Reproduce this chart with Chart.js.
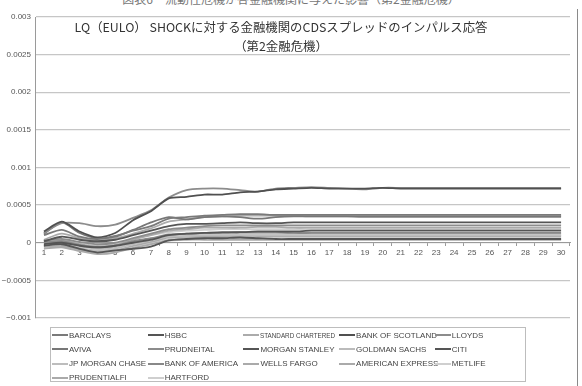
<!DOCTYPE html>
<html><head><meta charset="utf-8">
<script src="https://cdn.jsdelivr.net/npm/chart.js@4.4.1/dist/chart.umd.min.js"></script>
<style>
html,body{margin:0;padding:0;background:#fff;}
#wrap{position:relative;width:582px;height:386px;overflow:hidden;background:#fff;}
canvas{position:absolute;left:0;top:0;}
#cap{position:absolute;left:0;width:582px;top:-10px;text-align:center;font:12px "Noto Sans CJK JP";color:#777;white-space:nowrap;}
#title{position:absolute;left:0;width:562px;top:18px;text-align:center;font:12.4px/19px "Noto Sans CJK JP";color:#333;white-space:nowrap;}
#frame{position:absolute;left:577px;top:9px;width:0;height:380px;border-left:1px solid #8a8a8a;}
#legend{position:absolute;left:50px;top:327px;width:476px;height:55px;border:1px solid #bdbdbd;box-sizing:border-box;}
.li{position:absolute;height:12px;display:flex;align-items:center;font:8px "Liberation Sans",Arial,sans-serif;color:#444;white-space:nowrap;}
.li span.sw{display:inline-block;width:16px;height:0;margin-right:1px;}
.li span.narrow{display:inline-block;font-size:7.5px;transform:scaleX(0.84);transform-origin:left center;}
</style></head>
<body><div id="wrap">
<div id="cap">図表6　流動性危機が各金融機関に与えた影響（第2金融危機）</div>
<canvas id="c" width="582" height="386"></canvas>
<div id="title">LQ（EULO） SHOCKに対する金融機関のCDSスプレッドのインパルス応答<br>（第2金融危機）</div>
<div id="frame"></div>
<div id="legend"></div>
</div>
<script>
const periods = [1,2,3,4,5,6,7,8,9,10,11,12,13,14,15,16,17,18,19,20,21,22,23,24,25,26,27,28,29,30];
const yTicks = [-0.001,-0.0005,0,0.0005,0.001,0.0015,0.002,0.0025,0.003];

const seriesNames = ["BARCLAYS","HSBC","STANDARD CHARTERED","BANK OF SCOTLAND","LLOYDS","AVIVA","PRUDNEITAL","MORGAN STANLEY","GOLDMAN SACHS","CITI","JP MORGAN CHASE","BANK OF AMERICA","WELLS FARGO","AMERICAN EXPRESS","METLIFE","PRUDENTIALFI","HARTFORD"];
const seriesColors = ["#7a7a7a","#555555","#ababab","#505050","#8c8c8c","#777777","#8c8c8c","#555555","#bbbbbb","#555555","#bdbdbd","#888888","#aaaaaa","#aaaaaa","#cfcfcf","#aaaaaa","#cfcfcf"];

const barclays = [0.0001,0.00017,0.00008,0.00005,0.00009,0.00016,0.00022,0.00032,0.00034,0.00036,0.00037,0.00038,0.00038,0.00037,0.00037,0.00037,0.00037,0.00037,0.00037,0.00037,0.00037,0.00037,0.00037,0.00037,0.00037,0.00037,0.00037,0.00037,0.00037,0.00037];
const hsbc = [0.00002,0.00008,0.00004,0.00002,0.00004,0.0001,0.00016,0.00022,0.00025,0.00025,0.00026,0.00027,0.00026,0.00026,0.00027,0.00027,0.00027,0.00027,0.00027,0.00027,0.00027,0.00027,0.00027,0.00027,0.00027,0.00027,0.00027,0.00027,0.00027,0.00027];
const standardChartered = [0.00004,0.00012,0.00006,0.00003,0.00006,0.00012,0.00019,0.00028,0.00031,0.00034,0.00035,0.00036,0.00036,0.00036,0.00036,0.00035,0.00035,0.00035,0.00034,0.00034,0.00034,0.00034,0.00034,0.00034,0.00034,0.00034,0.00034,0.00034,0.00034,0.00034];
const bankOfScotland = [0.00015,0.00028,0.00015,0.00007,0.00013,0.0003,0.00042,0.00059,0.00061,0.00064,0.00064,0.00067,0.00068,0.00071,0.00072,0.00073,0.00072,0.00072,0.00072,0.00073,0.00072,0.00072,0.00072,0.00072,0.00072,0.00072,0.00072,0.00072,0.00072,0.00072];
const lloyds = [0.00013,0.00026,0.00026,0.00022,0.00024,0.00033,0.00043,0.0006,0.0007,0.00072,0.00072,0.0007,0.00068,0.00072,0.00073,0.00074,0.00073,0.00072,0.00071,0.00073,0.00073,0.00073,0.00073,0.00073,0.00073,0.00073,0.00073,0.00073,0.00073,0.00073];
const aviva = [0.00012,0.00027,0.00013,0.00006,0.00008,0.00017,0.00027,0.00034,0.00031,0.00034,0.00035,0.00034,0.00032,0.00034,0.00035,0.00035,0.00035,0.00035,0.00035,0.00035,0.00035,0.00035,0.00035,0.00035,0.00035,0.00035,0.00035,0.00035,0.00035,0.00035];
const prudneital = [0.00003,0.00005,0.00001,-0.00002,0,0.00006,0.00012,0.00018,0.0002,0.00022,0.00023,0.00023,0.00023,0.00023,0.00023,0.00023,0.00023,0.00023,0.00023,0.00023,0.00023,0.00023,0.00023,0.00023,0.00023,0.00023,0.00023,0.00023,0.00023,0.00023];
const morganStanley = [-0.00004,-0.00002,-0.00008,-0.00013,-0.0001,-0.00008,-0.00005,0.00003,0.00005,0.00006,0.00006,0.00007,0.00006,0.00005,0.00005,0.00005,0.00005,0.00005,0.00005,0.00005,0.00005,0.00005,0.00005,0.00005,0.00005,0.00005,0.00005,0.00005,0.00005,0.00005];
const goldmanSachs = [-0.00003,-0.00001,-0.00005,-0.00008,-0.00006,0,0.00005,0.0001,0.00011,0.00012,0.00012,0.00012,0.00012,0.00012,0.00012,0.00012,0.00012,0.00012,0.00012,0.00012,0.00012,0.00012,0.00012,0.00012,0.00012,0.00012,0.00012,0.00012,0.00012,0.00012];
const citi = [-0.00002,0,-0.00004,-0.00006,-0.00004,0,0.00004,0.0001,0.00012,0.00013,0.00014,0.00014,0.00015,0.00015,0.00015,0.00016,0.00016,0.00016,0.00016,0.00016,0.00016,0.00016,0.00016,0.00016,0.00016,0.00016,0.00016,0.00016,0.00016,0.00016];
const jpMorganChase = [-0.00004,-0.00002,-0.00007,-0.0001,-0.00008,-0.00002,0.00003,0.00008,0.00009,0.0001,0.0001,0.0001,0.0001,0.0001,0.0001,0.0001,0.0001,0.0001,0.0001,0.0001,0.0001,0.0001,0.0001,0.0001,0.0001,0.0001,0.0001,0.0001,0.0001,0.0001];
const bankOfAmerica = [0.00001,0.00002,-0.00003,-0.00006,-0.00004,0.00002,0.00006,0.00011,0.00012,0.00013,0.00013,0.00014,0.00014,0.00014,0.00013,0.00013,0.00013,0.00013,0.00013,0.00013,0.00013,0.00013,0.00013,0.00013,0.00013,0.00013,0.00013,0.00013,0.00013,0.00013];
const wellsFargo = [-0.00008,-0.00006,-0.00011,-0.00015,-0.00013,-0.00007,-0.00002,0.00003,0.00004,0.00004,0.00004,0.00004,0.00004,0.00004,0.00004,0.00004,0.00004,0.00004,0.00004,0.00004,0.00004,0.00004,0.00004,0.00004,0.00004,0.00004,0.00004,0.00004,0.00004,0.00004];
const americanExpress = [0,0.00003,-0.00002,-0.00005,-0.00003,0.00004,0.0001,0.00016,0.00018,0.0002,0.0002,0.0002,0.00021,0.00021,0.0002,0.0002,0.0002,0.0002,0.0002,0.0002,0.0002,0.0002,0.0002,0.0002,0.0002,0.0002,0.0002,0.0002,0.0002,0.0002];
const metlife = [0.00002,0.00004,0,-0.00003,-0.00001,0.00005,0.0001,0.00014,0.00016,0.00017,0.00018,0.00018,0.00018,0.00018,0.00018,0.00018,0.00018,0.00018,0.00018,0.00018,0.00018,0.00018,0.00018,0.00018,0.00018,0.00018,0.00018,0.00018,0.00018,0.00018];
const prudentialFi = [-0.00005,-0.00004,-0.00009,-0.00012,-0.0001,-0.00004,0.00001,0.00007,0.00008,0.00008,0.00008,0.00009,0.00009,0.00009,0.00009,0.00009,0.00009,0.00009,0.00009,0.00009,0.00009,0.00009,0.00009,0.00009,0.00009,0.00009,0.00009,0.00009,0.00009,0.00009];
const hartford = [-0.00006,-0.00005,-0.0001,-0.00014,-0.00012,-0.00006,0,0.00005,0.00006,0.00007,0.00007,0.00007,0.00007,0.00007,0.00007,0.00007,0.00007,0.00007,0.00007,0.00007,0.00007,0.00007,0.00007,0.00007,0.00007,0.00007,0.00007,0.00007,0.00007,0.00007];

const seriesValues = [barclays,hsbc,standardChartered,bankOfScotland,lloyds,aviva,prudneital,morganStanley,goldmanSachs,citi,jpMorganChase,bankOfAmerica,wellsFargo,americanExpress,metlife,prudentialFi,hartford];

const datasets = seriesNames.map((n,i)=>({
  label:n, data:seriesValues[i], borderColor:seriesColors[i], backgroundColor:seriesColors[i],
  borderWidth:1.8, pointRadius:0, tension:0.25, fill:false,
  order: (parseInt(seriesColors[i].slice(1,3),16) > 0x90 ? 2 : 1)
}));

function fmt(v){
  const s = String(Number(v.toFixed(4)));
  return s.startsWith('-') ? '\u2212' + s.slice(1) : s;
}

new Chart(document.getElementById('c'), {
  type:'line',
  data:{labels:periods, datasets},
  options:{
    responsive:false, animation:false,
    layout:{padding:{left:0,right:12,top:17,bottom:68}},
    plugins:{legend:{display:false}, title:{display:false}, tooltip:{enabled:false}},
    scales:{
      x:{
        type:'category', offset:true, position:{y:0},
        grid:{display:true, drawOnChartArea:false, drawTicks:true, tickLength:3, offset:true, color:'#999'},
        border:{display:true, color:'#9a9a9a', width:1},
        ticks:{font:{family:'Liberation Sans', size:8}, color:'#555', padding:2, maxRotation:0, autoSkip:false}
      },
      y:{
        min:-0.001, max:0.003,
        afterBuildTicks:(s)=>{ s.ticks = yTicks.map(v=>({value:v})); },
        afterFit:(s)=>{ s.width = 35; },
        grid:{color:'#c6c6c6', lineWidth:1.3, drawTicks:false},
        border:{display:true, color:'#9a9a9a'},
        ticks:{font:{family:'Liberation Sans', size:8}, color:'#555', padding:4, callback:(v)=>fmt(v)}
      }
    }
  }
});

const leg = document.getElementById('legend');
seriesNames.forEach((n,i)=>{
  const col = i % 5, row = Math.floor(i/5);
  const d = document.createElement('div');
  d.className='li';
  d.style.left = (1 + col*95.7) + 'px';
  d.style.top = (1 + row*14.3) + 'px';
  const sw = document.createElement('span');
  sw.className='sw';
  sw.style.borderTop = '2px solid ' + seriesColors[i];
  d.appendChild(sw);
  const t = document.createElement('span');
  t.textContent = n;
  if (n === 'STANDARD CHARTERED') t.className = 'narrow';
  d.appendChild(t);
  leg.appendChild(d);
});
</script>
</body></html>
